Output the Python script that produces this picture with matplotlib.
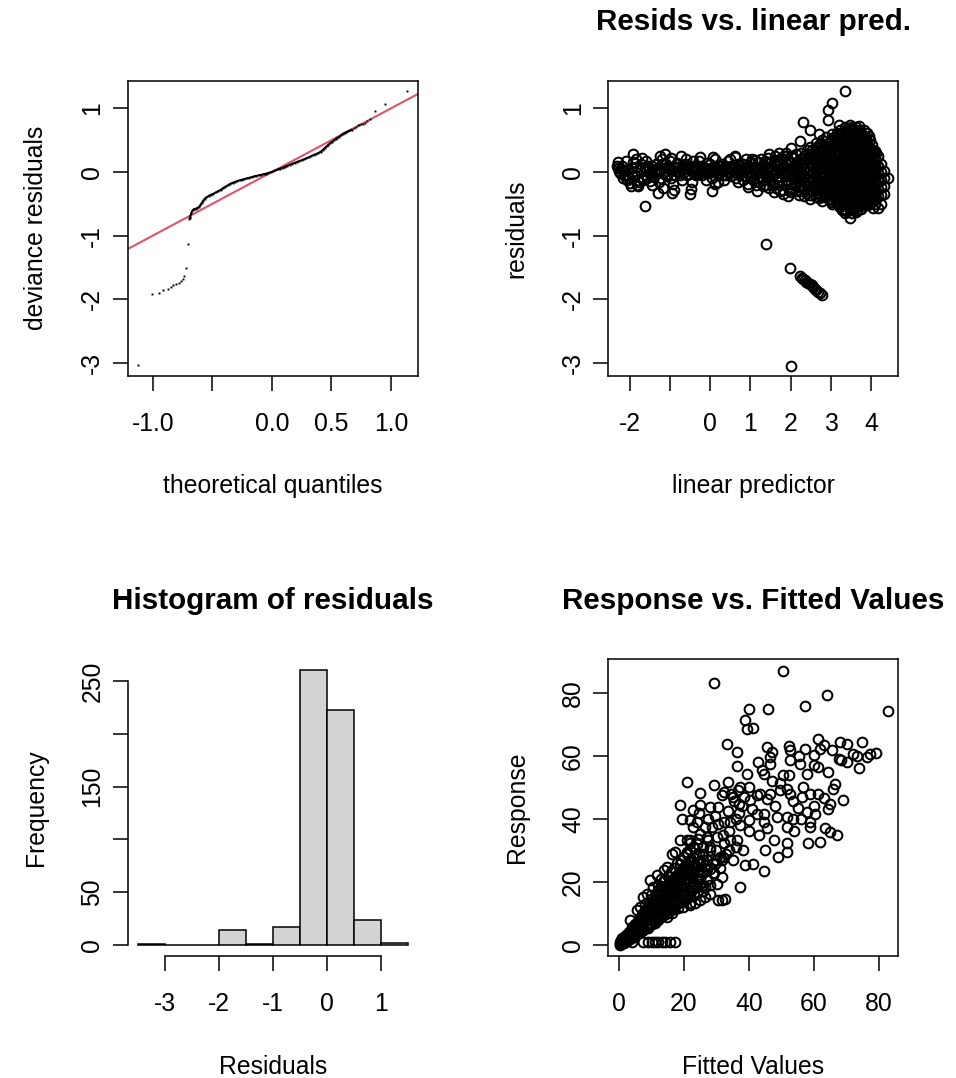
import matplotlib
matplotlib.use('Agg')
import matplotlib.pyplot as plt
import numpy as np

plt.rcParams['font.family'] = ['Liberation Sans', 'DejaVu Sans']

# ---------------- data ----------------
# QQ plot (theoretical quantiles vs sorted deviance residuals)
qq_tail_theo = [-1.126, -1.008, -0.947, -0.911, -0.875, -0.850, -0.827, -0.805, -0.783,
                -0.760, -0.745, -0.738, -0.718, -0.707, -0.695,
                0.690, 0.705, 0.720, 0.735, 0.750, 0.765, 0.780, 0.800, 0.823, 0.868, 0.946, 1.131]
qq_tail_resid = [-3.035, -1.918, -1.898, -1.861, -1.830, -1.800, -1.772, -1.752, -1.736,
                 -1.714, -1.680, -1.641, -1.505, -1.132, -0.745,
                 0.685, 0.700, 0.735, 0.740, 0.750, 0.755, 0.775, 0.800, 0.833, 0.964, 1.069, 1.278]
qq_dense_theo = [-0.690, -0.685, -0.675, -0.665, -0.655, -0.640, -0.625, -0.610, -0.600, -0.590,
                 -0.580, -0.565, -0.550, -0.530, -0.510, -0.490, -0.470, -0.450, -0.430, -0.410,
                 -0.390, -0.370, -0.350, -0.330, -0.310, -0.290, -0.270, -0.250, -0.230, -0.210,
                 -0.190, -0.170, -0.150, -0.130, -0.110, -0.090, -0.070, -0.050, -0.030, -0.010,
                 0.010, 0.030, 0.050, 0.070, 0.090, 0.110, 0.130, 0.150, 0.170, 0.190,
                 0.210, 0.230, 0.250, 0.270, 0.290, 0.310, 0.330, 0.350, 0.370, 0.390,
                 0.410, 0.430, 0.445, 0.460, 0.475, 0.490, 0.505, 0.520, 0.535, 0.550,
                 0.565, 0.580, 0.595, 0.610, 0.625, 0.640, 0.655, 0.670]
qq_dense_resid = [-0.723, -0.700, -0.640, -0.600, -0.585, -0.575, -0.565, -0.545, -0.520, -0.490,
                  -0.460, -0.420, -0.400, -0.375, -0.355, -0.340, -0.320, -0.300, -0.280, -0.255,
                  -0.230, -0.210, -0.185, -0.170, -0.155, -0.140, -0.130, -0.120, -0.110, -0.100,
                  -0.090, -0.080, -0.070, -0.060, -0.052, -0.043, -0.035, -0.025, -0.015, -0.003,
                  0.010, 0.025, 0.040, 0.055, 0.068, 0.085, 0.100, 0.115, 0.130, 0.143,
                  0.158, 0.172, 0.185, 0.200, 0.215, 0.232, 0.250, 0.268, 0.282, 0.298,
                  0.320, 0.350, 0.380, 0.403, 0.430, 0.455, 0.475, 0.495, 0.520, 0.540,
                  0.555, 0.575, 0.600, 0.615, 0.625, 0.640, 0.652, 0.665]

# Residuals vs linear predictor
band_pairs = [(-2.33, 0.10), (-2.29, 0.15), (-2.31, 0.07), (-2.25, -0.01), (-2.23, 0.05), (-2.17, -0.09),
              (-2.12, 0.02), (-2.08, -0.12), (-2.04, -0.04), (-2.00, -0.17), (-1.96, 0.06), (-1.92, 0.29),
              (-1.92, 0.15), (-1.88, -0.05), (-1.83, -0.20), (-1.79, -0.22), (-1.75, 0.03), (-1.71, -0.09),
              (-1.69, 0.22), (-1.67, -0.12), (-1.63, 0.07), (-1.63, -0.54), (-1.59, -0.04), (-1.55, 0.10),
              (-1.50, -0.14), (-1.46, 0.05), (-1.42, -0.06), (-1.38, 0.02), (-1.34, 0.12), (-1.30, -0.33),
              (-1.25, 0.25), (-1.21, 0.12), (-1.17, -0.25), (-1.13, 0.29), (-1.09, -0.06), (-1.05, 0.08),
              (-1.00, 0.17), (-0.96, -0.33), (-0.92, -0.19), (-0.88, 0.07), (-0.84, 0.14), (-0.80, 0.02),
              (-0.76, -0.05), (-0.73, 0.25), (-0.68, 0.10), (-0.63, 0.12), (-0.59, -0.04), (-0.55, 0.05),
              (-0.51, -0.35), (-0.47, -0.27), (-0.42, 0.17), (-0.38, 0.02), (-0.34, 0.08), (-0.30, -0.03),
              (-0.26, 0.23), (-0.22, 0.09), (-0.18, 0.00), (-0.13, 0.04), (-0.09, 0.14), (-0.05, -0.02),
              (-0.01, 0.12), (0.03, -0.09), (0.03, -0.30), (0.07, 0.23), (0.11, -0.19), (0.15, 0.05),
              (0.20, 0.09), (0.24, -0.01), (0.28, 0.13), (0.32, 0.02), (0.36, 0.07), (0.40, -0.04),
              (0.45, 0.17), (0.49, 0.04), (0.53, 0.09), (0.57, 0.00), (0.61, 0.23), (0.61, 0.25),
              (0.65, -0.09), (0.65, -0.02), (0.70, 0.06), (0.74, 0.02), (0.74, 0.09), (0.78, 0.13),
              (0.82, 0.12), (0.82, -0.12), (0.86, 0.03), (0.90, 0.04), (0.94, -0.19), (0.94, -0.23),
              (0.98, 0.08), (1.03, 0.20), (1.03, -0.02), (1.07, 0.06), (1.11, 0.19), (1.15, -0.30),
              (1.19, 0.02), (1.23, -0.07), (1.28, 0.09), (1.32, 0.04), (1.36, -0.02), (1.40, 0.14),
              (1.44, 0.07), (1.48, -0.12), (1.52, 0.00), (1.57, 0.04), (1.61, 0.19), (1.65, 0.09),
              (1.69, -0.07), (1.73, -0.30), (1.77, 0.05), (1.81, 0.04), (1.85, -0.05), (1.90, -0.12),
              (1.94, -0.38), (1.98, 0.14), (1.98, 0.02)]
band_fill_pairs = [(-2.27, 0.02), (-2.20, 0.10), (-2.14, -0.05), (-2.06, 0.05), (-2.02, -0.10), (-1.94, 0.00),
                   (-1.86, 0.08), (-1.81, -0.12), (-1.77, -0.15), (-1.73, 0.12), (-1.61, 0.02), (-1.57, -0.10),
                   (-1.52, 0.06), (-1.48, -0.02), (-1.44, 0.10), (-1.40, -0.08), (-1.36, 0.05), (-1.32, -0.02),
                   (-1.27, 0.04), (-1.23, -0.09), (-1.19, 0.06), (-1.15, 0.00), (-1.11, 0.13), (-1.07, -0.03),
                   (-1.02, 0.05), (-0.98, -0.10), (-0.94, 0.03), (-0.90, -0.05), (-0.86, 0.02), (-0.82, 0.08),
                   (-0.78, -0.02), (-0.70, 0.05), (-0.66, 0.00), (-0.61, 0.06), (-0.57, 0.10), (-0.53, -0.03),
                   (-0.49, 0.06), (-0.44, 0.00), (-0.40, 0.10), (-0.36, -0.05), (-0.32, 0.05), (-0.28, 0.00),
                   (-0.24, 0.06), (-0.20, -0.04), (-0.15, 0.08), (-0.11, -0.02), (-0.07, 0.05), (-0.03, 0.02),
                   (0.01, 0.06), (0.05, 0.00), (0.09, 0.08), (0.13, 0.02), (0.18, -0.03), (0.22, 0.05),
                   (0.26, 0.09), (0.30, -0.05), (0.34, 0.03), (0.38, 0.10), (0.43, 0.00), (0.47, 0.08),
                   (0.51, -0.06), (0.55, 0.04), (0.59, 0.08), (0.63, 0.00), (0.68, 0.12), (0.72, -0.05),
                   (0.76, 0.05), (0.80, 0.00), (0.84, 0.07), (0.88, -0.06), (0.92, 0.10), (0.96, 0.00),
                   (1.00, -0.08), (1.05, 0.12), (1.09, 0.00), (1.13, 0.08), (1.17, -0.10), (1.21, 0.05),
                   (1.25, 0.00), (1.30, -0.12), (1.34, 0.10), (1.38, -0.05), (1.42, 0.02), (1.46, -0.08),
                   (1.50, 0.10), (1.55, -0.05), (1.59, 0.05), (1.63, -0.10), (1.67, 0.02), (1.71, 0.12),
                   (1.75, -0.08), (1.79, -0.02), (1.83, 0.10), (1.88, 0.00), (1.92, -0.06), (1.96, 0.06)]
band_spread_pairs = [(-2.10, 0.18), (-1.98, -0.22), (-1.85, 0.20), (-1.60, 0.18), (-1.45, -0.20), (-1.28, -0.15),
                     (-1.20, 0.20), (-0.98, 0.22), (-0.90, -0.28), (-0.70, -0.12), (-0.60, 0.20), (-0.45, -0.15),
                     (-0.28, 0.18), (-0.10, -0.12), (0.12, 0.20), (0.35, -0.12), (0.50, 0.20), (0.70, -0.15),
                     (0.88, 0.20), (0.20, -0.15), (1.02, 0.15), (1.06, -0.12), (1.10, 0.05), (1.14, -0.20),
                     (1.18, 0.16), (1.22, -0.15), (1.26, 0.20), (1.31, -0.22), (1.35, 0.18), (1.39, -0.20),
                     (1.43, 0.22), (1.47, -0.25), (1.51, 0.15), (1.56, -0.18), (1.60, 0.25), (1.64, -0.25),
                     (1.68, 0.18), (1.72, -0.15), (1.76, 0.22), (1.80, -0.28), (1.84, 0.25), (1.89, -0.20),
                     (1.93, 0.18), (1.97, -0.28), (1.70, 0.30), (1.88, 0.30), (1.58, -0.32), (1.82, -0.35),
                     (1.46, 0.28), (2.00, 0.25)]

blob_lp = [2.02, 2.08, 2.14, 2.20, 2.23, 2.27, 2.31, 2.34, 2.41, 2.48, 2.55, 2.62, 2.71, 2.79, 2.88,
           2.93, 2.97, 3.04, 3.12, 3.20, 3.28, 3.35, 3.42, 3.48, 3.55, 3.62, 3.69, 3.76, 3.83, 3.91,
           3.98, 4.05, 4.12, 4.18, 4.25, 4.32, 4.43]
blob_res = [[0.38, 0.15, 0.05, -0.05, -0.15, -0.25, -0.32],
            [0.22, 0.10, 0.00, -0.10, -0.20],
            [0.28, 0.12, 0.03, -0.07, -0.18, -0.30],
            [0.18, 0.06, -0.04, -0.14, -0.24, -0.36],
            [0.48],
            [0.30, 0.20, 0.10, 0.00, -0.10, -0.20, -0.30],
            [0.78],
            [0.25, 0.14, 0.04, -0.06, -0.16, -0.26, -0.38],
            [0.35, 0.20, 0.08, -0.02, -0.12, -0.22, -0.33],
            [0.66, 0.40, 0.28, 0.16, 0.05, -0.05, -0.15, -0.25, -0.36, -0.42],
            [0.30, 0.20, 0.10, 0.00, -0.10, -0.20, -0.30],
            [0.45, 0.35, 0.22, 0.12, 0.02, -0.08, -0.18, -0.28, -0.40],
            [0.59, 0.42, 0.30, 0.18, 0.06, -0.04, -0.14, -0.24, -0.34, -0.41],
            [0.50, 0.36, 0.24, 0.12, 0.00, -0.10, -0.20, -0.32, -0.45],
            [0.55, 0.40, 0.28, 0.16, 0.05, -0.06, -0.16, -0.28, -0.38],
            [0.82, 0.98],
            [0.45, 0.32, 0.20, 0.08, -0.02, -0.12, -0.24, -0.36, -0.44],
            [1.08, 0.60, 0.38, 0.25, 0.14, 0.03, -0.08, -0.18, -0.30, -0.42, -0.50],
            [0.50, 0.35, 0.22, 0.10, 0.00, -0.10, -0.22, -0.34, -0.46],
            [0.74, 0.58, 0.42, 0.30, 0.18, 0.06, -0.04, -0.15, -0.28, -0.40, -0.54],
            [0.62, 0.48, 0.36, 0.24, 0.12, 0.00, -0.12, -0.24, -0.36, -0.48, -0.60],
            [1.28, 0.70, 0.52, 0.40, 0.28, 0.16, 0.04, -0.08, -0.20, -0.32, -0.44, -0.58, -0.65],
            [0.60, 0.46, 0.33, 0.20, 0.08, -0.04, -0.16, -0.28, -0.40, -0.52],
            [0.74, 0.62, 0.50, 0.38, 0.26, 0.14, 0.02, -0.10, -0.22, -0.34, -0.46, -0.60, -0.72],
            [0.66, 0.52, 0.40, 0.28, 0.15, 0.03, -0.09, -0.21, -0.33, -0.45, -0.57],
            [0.70, 0.56, 0.43, 0.30, 0.18, 0.06, -0.06, -0.18, -0.30, -0.42, -0.55, -0.63],
            [0.72, 0.58, 0.45, 0.32, 0.20, 0.08, -0.04, -0.16, -0.28, -0.40, -0.52],
            [0.62, 0.48, 0.35, 0.22, 0.10, -0.02, -0.14, -0.26, -0.38, -0.50, -0.58],
            [0.66, 0.52, 0.38, 0.25, 0.12, 0.00, -0.12, -0.24, -0.36, -0.48],
            [0.62, 0.46, 0.32, 0.18, 0.05, -0.07, -0.19, -0.31, -0.43, -0.52],
            [0.50, 0.36, 0.22, 0.10, -0.02, -0.14, -0.26, -0.38, -0.50],
            [0.35, 0.28, 0.15, 0.03, -0.09, -0.21, -0.33, -0.45, -0.56],
            [0.30, 0.18, 0.05, -0.07, -0.19, -0.31, -0.43],
            [0.25, 0.10, -0.02, -0.14, -0.26, -0.38, -0.57],
            [0.12, 0.00, -0.12, -0.24, -0.36, -0.50],
            [0.02, -0.10, -0.22, -0.34],
            [-0.10]]
blob_fill_lp = [2.52, 2.66, 2.75, 2.84, 3.00, 3.08, 3.16, 3.24, 3.31, 3.38, 3.45, 3.52, 3.58, 3.65, 3.72,
                3.80, 3.87, 3.94, 4.02, 4.09]
blob_fill_res = [[0.34, 0.22, 0.11, -0.01, -0.13, -0.27],
                 [0.40, 0.28, 0.16, 0.05, -0.07, -0.20, -0.33],
                 [0.46, 0.33, 0.20, 0.09, -0.03, -0.16, -0.29, -0.38],
                 [0.43, 0.31, 0.19, 0.07, -0.05, -0.15, -0.26, -0.40],
                 [0.50, 0.37, 0.26, 0.13, 0.02, -0.10, -0.22, -0.35, -0.47],
                 [0.55, 0.42, 0.29, 0.18, 0.06, -0.05, -0.17, -0.28, -0.40],
                 [0.62, 0.45, 0.33, 0.21, 0.09, -0.03, -0.14, -0.26, -0.38, -0.50],
                 [0.66, 0.54, 0.41, 0.29, 0.17, 0.05, -0.07, -0.19, -0.31, -0.43, -0.55],
                 [0.58, 0.46, 0.34, 0.22, 0.10, -0.02, -0.14, -0.26, -0.38, -0.52],
                 [0.64, 0.52, 0.39, 0.26, 0.13, 0.01, -0.11, -0.23, -0.36, -0.49, -0.62],
                 [0.68, 0.55, 0.43, 0.31, 0.19, 0.07, -0.05, -0.17, -0.29, -0.41, -0.54],
                 [0.70, 0.57, 0.45, 0.33, 0.21, 0.09, -0.03, -0.15, -0.27, -0.39, -0.51, -0.65],
                 [0.60, 0.48, 0.36, 0.24, 0.12, 0.00, -0.12, -0.24, -0.36, -0.48],
                 [0.64, 0.51, 0.37, 0.24, 0.12, 0.00, -0.12, -0.24, -0.36, -0.49, -0.60],
                 [0.66, 0.52, 0.39, 0.26, 0.14, 0.02, -0.10, -0.22, -0.34, -0.46],
                 [0.57, 0.43, 0.29, 0.16, 0.04, -0.08, -0.20, -0.32, -0.44, -0.54],
                 [0.55, 0.41, 0.28, 0.15, 0.03, -0.09, -0.21, -0.33, -0.45],
                 [0.56, 0.40, 0.26, 0.13, 0.00, -0.12, -0.24, -0.36, -0.48],
                 [0.42, 0.29, 0.16, 0.04, -0.08, -0.20, -0.32, -0.44],
                 [0.33, 0.22, 0.10, -0.02, -0.14, -0.26, -0.38, -0.50]]

outlier_lp = [1.38, 1.98, 2.23, 2.28, 2.31, 2.36, 2.39, 2.44, 2.48, 2.52, 2.56, 2.60, 2.64, 2.69, 2.73, 2.78, 2.005]
outlier_res = [-1.13, -1.50, -1.63, -1.66, -1.68, -1.70, -1.72, -1.74, -1.76, -1.78, -1.80, -1.83, -1.85, -1.88, -1.90, -1.93, -3.04]

# Histogram of residuals
hist_breaks = [-3.5, -3.0, -2.5, -2.0, -1.5, -1.0, -0.5, 0.0, 0.5, 1.0, 1.5]
hist_counts = [1, 0, 0, 14, 1, 17, 260, 222, 24, 2]

# Response vs fitted values
core_pairs = [(0.2, 0.3), (0.4, 0.8), (0.6, 0.4), (0.8, 1.2), (1.0, 0.6), (1.2, 1.6), (1.4, 1.0), (1.6, 2.0),
              (1.8, 1.3), (2.0, 2.4), (2.2, 1.7), (2.4, 2.8), (2.6, 2.1), (2.8, 3.3), (3.0, 2.4), (3.2, 3.7),
              (3.4, 2.8), (3.6, 4.2), (3.8, 3.2), (4.0, 4.8), (4.2, 3.6), (4.4, 5.2), (4.6, 4.0), (4.8, 5.8),
              (5.0, 4.4), (5.2, 6.2), (5.4, 4.8), (5.6, 6.8), (5.8, 5.2), (6.0, 7.3), (6.2, 5.6), (6.4, 7.8),
              (6.6, 6.0), (6.8, 8.4), (7.0, 6.4), (7.2, 9.0), (7.4, 6.9), (7.6, 9.6), (7.8, 7.4), (8.0, 10.2),
              (8.2, 7.8), (8.4, 10.8), (8.6, 8.3), (8.8, 11.4), (9.0, 8.8), (9.2, 12.0), (9.4, 9.3), (9.6, 12.6),
              (9.8, 9.8), (10.0, 13.2), (10.3, 10.3), (10.6, 13.8), (10.9, 10.8), (11.2, 14.5), (11.5, 11.3),
              (11.8, 15.2), (12.1, 11.8), (12.4, 15.9), (12.7, 12.4), (13.0, 16.6), (13.3, 13.0), (13.6, 17.3),
              (13.9, 13.6), (14.2, 18.0), (14.5, 14.2), (14.8, 18.7), (15.1, 14.8), (15.4, 19.4), (15.7, 15.4),
              (16.0, 20.1), (16.3, 16.0), (16.6, 20.8), (16.9, 16.6), (17.2, 21.5), (17.5, 17.2), (17.8, 22.2),
              (18.1, 17.8), (18.4, 22.9), (18.7, 18.4), (19.0, 23.6), (19.3, 19.0), (19.6, 24.3), (19.9, 19.6),
              (20.2, 25.0), (20.5, 20.2), (20.8, 25.7), (21.1, 20.8), (21.4, 26.4), (21.7, 21.4), (22.0, 27.1),
              (22.4, 22.0), (22.8, 27.8), (23.2, 22.6), (23.6, 28.5), (24.0, 23.2), (24.5, 29.0), (25.0, 24.0),
              (3.0, 3.2), (5.0, 5.5), (7.0, 7.8), (9.0, 10.0), (11.0, 12.5), (13.0, 14.5), (15.0, 16.8),
              (17.0, 19.0), (19.0, 21.0), (21.0, 23.5), (23.0, 25.5), (6.0, 6.5), (8.0, 9.0), (10.0, 11.5),
              (12.0, 13.5), (14.0, 15.8), (16.0, 18.0), (18.0, 20.0), (20.0, 22.5), (22.0, 24.5)]
core_mid_pairs = [(0.3, 0.1), (0.7, 0.9), (1.1, 1.3), (1.7, 1.6), (2.3, 2.2), (2.9, 2.8), (3.3, 3.3), (3.9, 4.0),
                  (4.3, 4.4), (4.9, 5.0), (5.3, 5.5), (5.9, 6.0), (6.3, 6.6), (6.9, 7.2), (7.3, 7.6), (7.9, 8.3),
                  (8.3, 8.7), (8.9, 9.4), (9.3, 10.2), (9.9, 10.6), (10.4, 11.8), (11.0, 11.6), (11.6, 12.9),
                  (12.2, 13.2), (12.8, 14.4), (13.4, 15.2), (14.0, 14.8), (14.6, 16.5), (15.2, 17.4), (15.8, 17.0),
                  (16.4, 18.6), (17.0, 18.0), (17.6, 19.8), (18.2, 21.0), (18.8, 20.6), (19.4, 22.2), (20.0, 21.0),
                  (20.6, 23.0), (21.2, 22.4), (21.8, 24.0), (22.6, 23.5), (23.4, 24.5), (24.2, 26.0), (25.0, 26.5),
                  (25.8, 27.0), (26.6, 25.5)]
core_fill_pairs = [(0.5, 1.5), (1.0, 2.2), (1.5, 0.5), (2.0, 3.2), (2.5, 1.2), (3.0, 4.2), (3.5, 1.8), (4.0, 5.8),
                   (4.5, 2.6), (5.0, 6.8), (5.5, 3.4), (6.0, 8.4), (6.5, 4.2), (7.0, 9.8), (7.5, 4.8), (8.0, 11.2),
                   (8.5, 5.6), (9.0, 12.8), (9.5, 6.5), (10.0, 14.5), (10.5, 7.5), (11.0, 15.8), (11.5, 8.2),
                   (12.0, 17.5), (12.5, 9.0), (13.0, 18.8), (13.5, 10.0), (14.0, 20.5), (14.5, 11.0), (15.0, 21.8),
                   (15.5, 11.5), (16.0, 23.0), (16.5, 12.5), (17.0, 24.5), (17.5, 13.0), (18.0, 26.0), (18.5, 14.0),
                   (19.0, 27.0), (19.5, 14.5), (20.0, 28.0), (20.5, 16.0), (21.0, 29.5), (21.5, 16.5), (22.0, 30.0),
                   (22.5, 17.5), (23.0, 31.0), (23.5, 19.0), (24.0, 32.0), (25.0, 21.0), (26.0, 29.0), (27.0, 24.0),
                   (28.0, 31.0), (29.0, 26.0), (30.0, 30.0), (31.0, 24.5), (32.0, 35.0), (33.0, 29.0), (34.0, 36.0),
                   (35.0, 27.0), (36.0, 40.0), (37.0, 42.0), (38.0, 44.0), (28.5, 37.5), (30.5, 38.5), (33.5, 42.5),
                   (35.5, 45.5), (24.5, 42.0), (27.5, 40.0), (29.5, 41.0), (34.5, 48.0), (36.5, 49.0), (38.5, 47.0),
                   (41.0, 43.0), (42.5, 47.5), (40.0, 36.0), (43.0, 35.0), (45.5, 37.0), (48.0, 44.0), (49.5, 51.5),
                   (53.5, 45.5), (55.0, 43.5), (60.0, 44.0), (63.0, 46.5), (56.0, 40.0), (60.5, 41.5), (66.5, 51.0),
                   (69.0, 46.0), (54.0, 36.0), (49.0, 28.0), (63.5, 37.0), (56.5, 47.0), (47.0, 52.0), (44.0, 55.5),
                   (55.5, 60.0), (60.0, 57.0), (68.5, 58.5), (72.0, 60.5), (79.0, 61.0), (63.0, 63.5)]
low_pairs = [(7.5, 5.8), (10.1, 6.8), (11.6, 8.9), (14.7, 8.9), (16.2, 10.0), (18.3, 11.6), (19.8, 12.1),
             (21.9, 13.2), (23.4, 13.2), (21.9, 12.6), (25.0, 14.2), (26.5, 15.3), (28.0, 16.3), (30.6, 14.2),
             (31.6, 14.2), (32.7, 14.7), (30.1, 19.5), (31.6, 21.6), (13.0, 10.0), (15.0, 12.0), (17.0, 13.5),
             (20.0, 15.5), (22.0, 17.0), (24.0, 18.5), (26.0, 19.0), (12.5, 9.5), (9.0, 7.0), (6.0, 4.5),
             (27.0, 21.0), (29.0, 22.7), (25.0, 19.5), (37.3, 18.4), (44.5, 23.5), (38.8, 25.3), (41.4, 25.8),
             (5.0, 3.0), (7.0, 4.5), (9.0, 5.5), (11.0, 7.0), (12.0, 8.0), (14.0, 9.5), (15.0, 10.0), (16.0, 11.0),
             (17.0, 11.5), (18.0, 13.0), (19.0, 13.5), (20.0, 14.0), (21.0, 15.0), (22.0, 15.5), (23.0, 16.0),
             (24.0, 16.5), (26.0, 17.0), (28.0, 19.0), (24.0, 21.0), (26.0, 23.0), (28.0, 24.0), (30.0, 27.0),
             (32.0, 28.0), (34.0, 30.0), (36.0, 31.0)]
high_pairs = [(3.4, 7.9), (5.4, 11.1), (6.5, 12.1), (7.5, 15.3), (8.5, 16.3), (9.5, 20.6), (10.6, 18.4),
              (11.6, 22.1), (13.7, 23.7), (14.7, 24.8), (16.2, 29.0), (17.3, 29.5), (18.8, 33.2), (20.9, 33.2),
              (21.9, 32.2), (18.8, 25.8), (14.7, 16.3), (16.7, 16.3), (17.8, 18.4), (19.8, 18.4), (20.9, 22.7),
              (22.9, 18.4), (26.5, 18.4), (21.9, 23.7), (23.9, 24.8), (26.0, 22.7), (27.0, 26.9), (27.0, 20.6),
              (29.1, 22.7), (29.6, 25.8), (31.1, 27.9), (22.9, 27.9), (22.9, 31.1), (24.4, 33.7), (27.5, 33.2),
              (26.5, 37.4), (23.9, 39.0), (21.9, 39.5), (12.0, 19.0), (13.0, 21.0), (15.0, 22.0), (8.0, 13.0),
              (10.0, 16.0)]
upper_pairs = [(50.6, 87.0), (29.1, 83.0), (64.0, 79.4), (82.7, 74.3), (57.3, 75.9), (46.0, 74.9), (39.9, 74.9),
               (38.8, 71.2), (39.3, 68.5), (41.4, 68.9), (33.2, 63.8), (36.3, 61.2), (45.5, 62.7), (47.0, 61.2),
               (46.5, 59.6), (52.2, 63.0), (52.7, 61.7), (61.4, 65.4), (62.0, 62.2), (57.3, 62.2), (59.9, 60.1),
               (65.5, 61.7), (68.1, 64.3), (70.2, 63.8), (67.6, 59.1), (70.2, 58.0), (73.8, 56.2), (73.2, 59.8),
               (74.8, 64.3), (76.3, 59.6), (77.3, 60.6), (42.9, 58.0), (44.5, 54.3), (46.5, 57.5), (52.7, 58.5),
               (55.8, 57.5), (57.8, 54.3), (61.4, 56.4), (64.5, 54.8), (50.6, 53.8), (52.2, 53.8), (36.3, 56.9),
               (39.3, 54.3), (20.9, 51.7), (25.0, 48.2), (29.1, 50.6), (32.2, 48.5), (33.7, 51.7), (37.3, 50.1),
               (39.9, 50.1), (35.2, 46.9), (36.8, 44.8), (40.4, 45.9), (43.5, 48.0), (45.5, 46.4), (46.5, 48.0),
               (49.6, 49.0), (51.7, 49.6), (52.7, 48.0), (56.8, 50.1), (58.9, 48.0), (61.4, 48.0), (66.0, 49.6),
               (65.0, 44.8), (64.5, 43.2), (57.8, 42.2), (58.9, 39.0), (58.9, 37.4), (51.7, 40.6), (53.7, 40.1),
               (51.7, 37.4), (48.6, 40.6), (44.5, 41.6), (44.5, 39.0), (42.4, 41.6), (39.9, 39.5), (37.3, 38.0),
               (34.2, 39.0), (65.0, 35.8), (67.1, 34.8), (58.3, 32.2), (61.9, 32.7), (47.6, 33.2), (51.7, 32.2),
               (51.7, 29.5), (45.0, 30.0), (18.8, 44.3), (19.3, 40.1), (22.9, 42.7), (25.0, 44.3), (28.0, 43.8),
               (30.6, 43.8), (31.6, 47.4), (32.2, 39.0), (30.1, 34.3), (32.2, 32.2), (34.2, 33.2), (36.3, 33.2),
               (38.3, 30.0), (25.0, 35.3), (27.0, 34.3), (22.9, 37.4), (21.9, 33.2), (20.9, 29.0), (26.0, 31.1),
               (28.0, 30.0), (31.6, 26.9)]
zero_row_fitted = [3.9, 7.5, 9.0, 10.1, 11.1, 12.1, 13.1, 14.2, 15.7, 17.3]
zero_row_response = [1.0, 1.0, 1.0, 1.0, 1.0, 1.0, 1.0, 1.0, 1.0, 1.0]

# ---------------- layout ----------------
W, H = 956, 1078
fig = plt.figure(figsize=(W / 100, H / 100), dpi=100)


def rect(l, t, r, b):
    return [l / W, 1 - b / H, (r - l) / W, (b - t) / H]


ax1 = fig.add_axes(rect(127.7, 80.7, 418.3, 376))
ax2 = fig.add_axes(rect(608.3, 80.7, 898.3, 376))
ax3 = fig.add_axes(rect(127.7, 659.3, 418.3, 956))
ax4 = fig.add_axes(rect(608.3, 659.3, 898.3, 956))

FS = 17.8
TFS = 21.3
LW = 1.1
RED = '#DF536B'
MS = 7.0
MEW = 1.45


def style(ax, xticks, xlabels, yticks, ylabels, xlabel, ylabel, title=None):
    for s in ax.spines.values():
        s.set_linewidth(LW)
    ax.set_xticks(xticks)
    ax.set_xticklabels(xlabels)
    ax.set_yticks(yticks)
    ax.set_yticklabels(ylabels)
    ax.tick_params(axis='both', direction='out', length=10.8, width=LW, labelsize=FS, colors='black')
    ax.tick_params(axis='x', pad=15)
    ax.tick_params(axis='y', pad=6)
    for t in ax.get_yticklabels():
        t.set_rotation(90)
        t.set_va('center')
        t.set_ha('right')
    ax.set_xlabel(xlabel, fontsize=FS)
    ax.set_ylabel(ylabel, fontsize=FS)
    ax.xaxis.set_label_coords(0.5, -0.333)
    ax.yaxis.set_label_coords(-0.275, 0.5)
    if title:
        ax.set_title(title, fontsize=TFS, fontweight='bold', pad=36.5)


def circles(ax, xs, ys):
    ax.plot(xs, ys, ls='none', marker='o', ms=MS, mfc='none', mec='black', mew=MEW)


def columns(lps, res_cols):
    xs = [x for x, ys in zip(lps, res_cols) for _ in ys]
    ys = [y for col in res_cols for y in col]
    return xs, ys


# Panel 1: QQ plot
ax1.plot([-2, 2], [-2, 2], color=RED, lw=1.5, zorder=1)
ax1.plot(qq_dense_theo, qq_dense_resid, color='black', lw=1.4, zorder=2)
ax1.plot(qq_dense_theo, qq_dense_resid, ls='none', marker='s', ms=1.4, mec='none', mfc='black', zorder=3)
ax1.plot(qq_tail_theo, qq_tail_resid, ls='none', marker='s', ms=1.4, mec='none', mfc='black', zorder=3)
ax1.set_xlim(-1.21, 1.229)
ax1.set_ylim(-3.204, 1.434)
style(ax1, [-1, -0.5, 0, 0.5, 1], ['-1.0', '', '0.0', '0.5', '1.0'],
      [-3, -2, -1, 0, 1], ['-3', '-2', '-1', '0', '1'],
      'theoretical quantiles', 'deviance residuals')

# Panel 2: residuals vs linear predictor
for pairs in [band_pairs, band_fill_pairs, band_spread_pairs]:
    circles(ax2, [p[0] for p in pairs], [p[1] for p in pairs])
circles(ax2, *columns(blob_lp, blob_res))
circles(ax2, *columns(blob_fill_lp, blob_fill_res))
circles(ax2, outlier_lp, outlier_res)
ax2.set_xlim(-2.54, 4.68)
ax2.set_ylim(-3.204, 1.434)
style(ax2, [-2, -1, 0, 1, 2, 3, 4], ['-2', '', '0', '1', '2', '3', '4'],
      [-3, -2, -1, 0, 1], ['-3', '-2', '-1', '0', '1'],
      'linear predictor', 'residuals', 'Resids vs. linear pred.')

# Panel 3: histogram
lefts = hist_breaks[:-1]
widths = np.diff(hist_breaks)
ax3.bar(lefts, hist_counts, width=widths, align='edge', color='#D3D3D3', edgecolor='black', linewidth=LW)
ax3.set_xlim(-3.7, 1.7)
ax3.set_ylim(-10.4, 270.4)
ax3.spines['top'].set_visible(False)
ax3.spines['right'].set_visible(False)
ax3.spines['left'].set_bounds(0, 250)
ax3.spines['bottom'].set_bounds(-3, 1)
style(ax3, [-3, -2, -1, 0, 1], ['-3', '-2', '-1', '0', '1'],
      [0, 50, 100, 150, 200, 250], ['0', '50', '', '150', '', '250'],
      'Residuals', 'Frequency', 'Histogram of residuals')

# Panel 4: response vs fitted
for pairs in [core_pairs, core_mid_pairs, core_fill_pairs, low_pairs, high_pairs, upper_pairs]:
    circles(ax4, [p[0] for p in pairs], [p[1] for p in pairs])
circles(ax4, zero_row_fitted, zero_row_response)
ax4.set_xlim(-3.3, 86.0)
ax4.set_ylim(-3.48, 90.57)
style(ax4, [0, 20, 40, 60, 80], ['0', '20', '40', '60', '80'],
      [0, 20, 40, 60, 80], ['0', '20', '40', '60', '80'],
      'Fitted Values', 'Response', 'Response vs. Fitted Values')

fig.savefig('out.png', dpi=100)
